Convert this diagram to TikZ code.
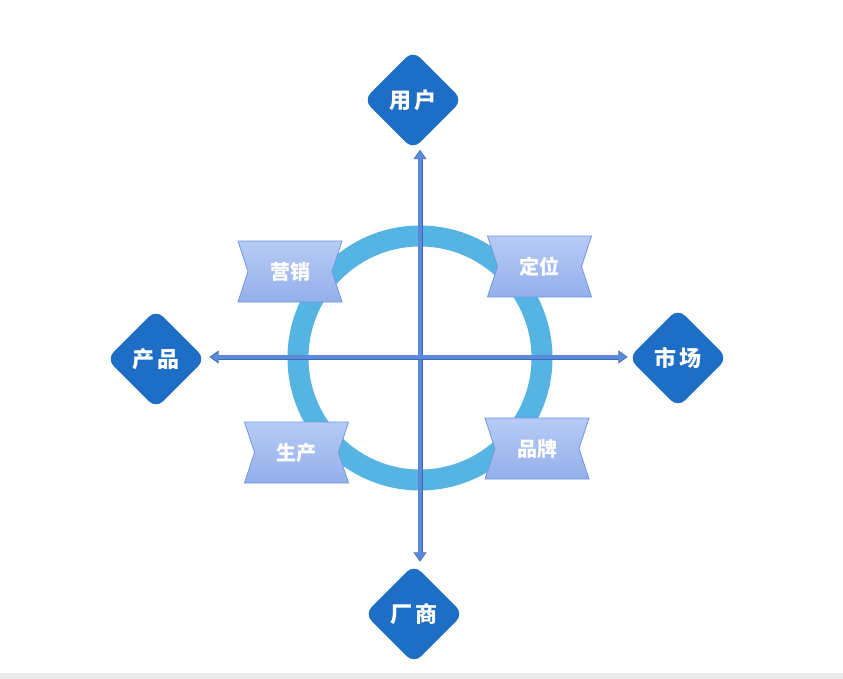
\documentclass[tikz,border=0pt]{standalone}
\usepackage{fontspec}
\newfontfamily\cjk{Noto Sans CJK SC}
\usetikzlibrary{shapes.geometric,arrows.meta,calc}
\definecolor{ringblue}{HTML}{56B4E3}
\definecolor{diablue}{HTML}{1E6EC6}
\definecolor{arrowblue}{HTML}{5B8ADB}
\definecolor{arrowedge}{HTML}{3F68B8}
\definecolor{bantop}{HTML}{B7CBF5}
\definecolor{banbot}{HTML}{94AFEB}
\definecolor{banedge}{HTML}{6F96E2}
\tikzset{
  diabox/.style={diamond, fill=diablue, minimum width=99pt, minimum height=99pt,
    rounded corners=10pt, inner sep=0pt, text=white,
    font=\cjk\bfseries\fontsize{22}{26}\selectfont},
  bantext/.style={inner sep=0pt, text=white, font=\cjk\bfseries\fontsize{20}{24}\selectfont},
  banshape/.style={draw=banedge, line width=0.8pt, top color=bantop, bottom color=banbot},
  axisarrow/.style={line width=5pt, draw=arrowedge,
    {Triangle[width=12.5pt,length=9.5pt]}-{Triangle[width=12.5pt,length=9.5pt]}},
  axisinner/.style={line width=3.3pt, draw=arrowblue,
    {Triangle[width=10pt,length=8pt]}-{Triangle[width=10pt,length=8pt]}},
}
\newcommand{\mybanner}[4]{%
  \path[banshape] (#2-52,#3-30.5) -- (#2+52,#3-30.5) -- (#2+42,#3) -- (#2+52,#3+30.5)
    -- (#2-52,#3+30.5) -- (#2-42,#3) -- cycle;
  \node[bantext] (#1) at (#2,#3) {#4};}
\begin{document}
\begin{tikzpicture}[x=1pt,y=-1pt]
\useasboundingbox (0,0) rectangle (843,679);
\fill[white] (0,0) rectangle (843,679);
\fill[black!8] (0,673) rectangle (843,679);
% ring
\draw[ringblue, line width=21pt] (420,358) circle[radius=122];
% diamonds
\node[diabox] (yh) at (413,100) {用\hspace{4pt}户};
\node[diabox] (cp) at (156,359) {产\hspace{4pt}品};
\node[diabox] (sc) at (678,358) {市\hspace{4pt}场};
\node[diabox] (cs) at (414,614) {厂\hspace{4pt}商};
% axes
\coordinate (vtop) at (yh.south -| 420,0);
\coordinate (vbot) at (cs.north -| 420,0);
\coordinate (hl) at (cp.east |- 0,357);
\coordinate (hr) at (sc.west |- 0,357);
\draw[axisarrow, shorten <=0pt, shorten >=2.5pt] (vtop) -- (vbot);
\draw[axisinner, shorten <=1pt, shorten >=3.5pt] (vtop) -- (vbot);
\draw[axisarrow, shorten <=3.5pt, shorten >=0.5pt] (hl) -- (hr);
\draw[axisinner, shorten <=4.5pt, shorten >=1.5pt] (hl) -- (hr);
% banners
\mybanner{yx}{290}{271.5}{营销}
\mybanner{dw}{539.5}{266.5}{定位}
\mybanner{sp}{296.5}{452.5}{生产}
\mybanner{pp}{537}{448.5}{品牌}
\end{tikzpicture}
\end{document}
